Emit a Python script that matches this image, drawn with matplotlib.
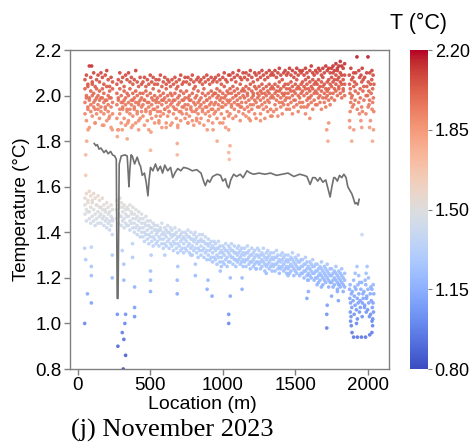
import numpy as np
import matplotlib
matplotlib.use('Agg')
import matplotlib.pyplot as plt
from matplotlib import cm, colors

plt.rcParams['font.family'] = ['Liberation Sans', 'DejaVu Sans']

# fibre locations (m), one reading every 10 m
location = np.arange(50, 1850, 10)

# temperature profiles, in 1/100 °C ('--' = no reading)
upper_1 = """
207 209 205 213 208 206 210 204 207 209
206 210 208 205 209 211 207 204 208 206
 -- --  205 207 210 206 208 204 209 207
210 206 208 205 207 211 206 204 208 205
206 208 204 207 205 209 206 208 205 207
205 207 209 204 206 208 205 207 206 204
207 205 208 206 204 207 209 205 206 208
206 208 205 207 209 206 204 207 208 206
207 205 208 206 209 207 205 208 206 207
208 206 209 207 205 208 210 207 206 209
209 207 210 208 206 209 211 208 207 210
208 210 207 209 211 208 206 210 209 207
210 208 211 209 207 210 208 211 209 210
209 211 208 210 212 209 207 210 211 209
210 212 209 211 208 210 212 209 211 210
211 209 212 210 208 211 213 210 209 211
210 212 211 209 212 210 213 211 212 210
212 213 211 214 212 213 215 213 212 214
"""
upper_2 = """
203 200 204 199 202 205 201 198 203 200
202 199 203 201 198 204 200 202 199 203
 -- --  201 198 203 200 197 202 199 201
200 203 198 201 199 202 200 197 201 199
201 198 202 200 197 201 199 203 200 198
199 202 200 198 201 199 203 200 198 201
200 198 201 203 199 200 202 198 201 199
202 199 200 198 201 203 199 200 202 198
199 201 203 200 198 201 199 202 200 201
201 203 200 202 199 201 204 200 202 201
203 201 204 202 200 203 201 205 202 203
202 204 201 203 205 202 200 204 203 201
204 202 205 203 201 204 202 205 203 204
203 205 202 204 206 203 201 204 205 203
205 203 206 204 202 205 207 204 203 205
206 204 207 205 203 206 204 207 205 206
205 207 204 206 208 205 203 206 207 205
208 210 207 209 211 208 210 209 207 209
"""
upper_3 = """
197 199 195 198 196 200 197 194 199 196
198 195 199 197 194 198 196 199 195 197
 -- --  196 199 194 197 195 198 196 194
197 194 196 198 195 197 193 196 198 195
196 198 194 197 195 193 196 198 194 197
195 197 193 196 198 194 197 195 193 196
197 195 198 194 196 197 193 195 198 196
194 196 198 195 193 197 196 194 197 195
196 194 197 195 198 193 196 197 194 196
197 199 196 198 195 197 199 196 198 197
198 196 199 197 200 198 196 199 197 200
199 197 200 198 196 199 201 198 197 199
200 198 201 199 197 200 198 201 199 200
199 201 198 200 202 199 197 200 201 199
201 199 202 200 198 201 203 200 199 201
202 200 203 201 199 202 200 203 201 202
201 203 200 202 204 201 199 202 203 201
204 206 203 205 207 204 206 205 203 205
"""
upper_4 = """
192 189 194 186 193 191 195 188 192 194
190 193 187 192 195 189 193 191 186 192
 -- --  190 185 192 188 194 190 187 193
189 192 186 191 194 188 192 185 190 193
191 187 193 189 185 192 190 194 188 191
193 189 191 186 192 194 188 191 193 187
188 192 194 190 186 193 189 192 195 190
192 188 191 194 189 187 193 190 192 188
190 193 187 192 195 189 191 194 188 192
193 190 194 188 192 195 190 186 193 191
192 195 190 194 191 196 193 189 195 192
194 191 195 193 189 194 196 192 190 195
195 192 196 194 190 195 193 197 194 191
193 196 194 191 197 195 192 196 198 194
196 194 197 192 195 198 196 193 197 195
197 195 192 198 196 199 197 194 198 196
196 199 197 194 199 197 195 200 198 196
199 201 198 202 200 203 201 199 202 200
"""
lower_1 = """
155 157 154 158 156 153 157 155 152 156
154 151 155 152 150 153 151 149 152 150
 -- --  154 152 155 153 151 152 150 151
150 152 149 151 148 150 147 149 146 148
146 144 147 145 143 145 142 144 143 141
143 141 142 144 140 142 141 143 140 142
141 139 142 140 138 141 139 140 138 140
139 141 138 140 137 139 140 138 136 139
137 139 136 138 135 137 135 136 134 136
135 133 136 134 132 134 133 135 132 134
133 135 132 134 131 133 134 132 133 131
133 131 134 132 130 133 131 132 130 133
132 130 131 133 129 131 132 130 131 129
131 129 132 130 128 130 131 129 130 128
130 128 129 131 127 129 128 130 127 128
128 126 129 127 125 127 126 128 125 126
126 124 125 127 123 125 124 126 122 124
124 122 123 125 121 123 122 124 120 122
"""
lower_2 = """
152 150 153 149 151 154 150 148 152 149
151 148 150 147 149 146 148 145 147 146
 -- --  150 148 151 147 149 146 148 147
147 145 148 146 144 146 143 145 142 144
142 140 143 141 139 142 140 138 141 139
140 138 141 139 137 139 138 140 137 139
138 136 139 137 135 138 136 137 135 137
136 138 135 137 134 136 137 135 133 136
134 136 133 135 132 134 132 133 131 133
132 130 133 131 129 131 130 132 129 131
130 132 129 131 128 130 131 129 130 128
130 128 131 129 127 130 128 129 127 130
129 127 128 130 126 128 129 127 128 126
128 126 129 127 125 127 128 126 127 125
127 125 126 128 124 126 125 127 124 125
125 123 126 124 122 124 123 125 122 123
123 121 122 124 120 122 121 123 119 121
121 119 120 122 118 120 119 121 117 119
"""
lower_3 = """
148 145 149 146 144 147 145 143 146 144
147 144 146 143 145 142 144 141 143 145
 -- --  146 144 147 143 145 142 144 143
143 141 144 142 140 142 139 141 138 140
138 136 139 137 135 138 136 134 137 135
136 134 137 135 133 135 134 136 133 135
134 132 135 133 131 134 132 133 131 133
132 134 131 133 130 132 133 131 129 132
130 132 129 131 128 130 128 129 127 129
128 126 129 127 125 127 126 128 125 127
127 129 126 128 125 127 128 126 127 125
127 125 128 126 124 127 125 126 124 127
126 124 125 127 123 125 126 124 125 123
125 123 126 124 122 124 125 123 124 122
124 122 123 125 121 123 122 124 121 122
122 120 123 121 119 121 120 122 119 120
120 118 119 121 117 119 118 120 116 118
118 116 117 119 115 117 116 118 114 116
"""

# scattered low readings below each band
upper_out_x = [55, 55, 62, 71, 96, 120, 180, 215, 238, 273, 277, 307, 341, 345, 380, 420,
               502, 505, 560, 610, 686, 686, 690, 760, 820, 893, 933, 961, 1000, 1041,
               1041, 1045, 1050, 1121, 1180, 1260, 1330, 1580, 1600, 1717, 1725, 1730]
upper_out_y = [1.65, 1.74, 1.80, 1.85, 2.13, 1.88, 1.87, 1.90, 1.85, 1.82, 1.85, 1.85, 1.81, 1.88, 1.87, 1.89,
               1.76, 1.84, 1.88, 1.86, 1.74, 1.79, 1.87, 1.88, 1.89, 1.85, 1.85, 1.80, 1.88, 1.85,
               1.75, 1.72, 1.78, 1.95, 1.90, 1.89, 1.91, 1.95, 1.90, 1.85, 1.80, 1.88]
lower_out_x = [48, 55, 67, 94, 94, 94, 94, 48, 238, 238, 238, 273, 277, 307, 318, 325,
               330, 314, 330, 318, 318, 307, 392, 392, 392, 378, 378, 502, 502, 502,
               506, 600, 686, 686, 690, 780, 811, 811, 892, 926, 898, 983, 1041, 1041,
               1052, 1052, 1133, 1133, 1230, 1300, 1450, 1580, 1590, 1585, 1650, 1680,
               1717, 1717, 1720, 1750, 1797, 1790, 1800]
lower_out_y = [1.33, 1.28, 1.13, 1.335, 1.25, 1.21, 1.09, 1.00, 1.39, 1.30, 1.20, 1.04, 0.90, 0.96, 0.93, 1.00,
               0.86, 0.80, 1.04, 1.19, 1.26, 1.32, 1.07, 1.03, 1.16, 1.35, 1.29, 1.14, 1.19, 1.23,
               1.30, 1.30, 1.13, 1.19, 1.25, 1.30, 1.21, 1.26, 1.15, 1.12, 1.19, 1.23, 1.04, 1.00,
               1.12, 1.20, 1.20, 1.15, 1.24, 1.22, 1.21, 1.11, 1.14, 1.19, 1.17, 1.16,
               1.04, 0.98, 1.08, 1.12, 1.10, 1.14, 1.17]

# coil section at the far end (1870-2040 m)
coil_up_x = [1925, 2001, 1883, 1902, 1938, 1961, 1992, 2028, 1872, 1897, 1917, 1953, 1978, 2013, 2036,
             1888, 1908, 1943, 1968, 2003, 2027, 1874, 1903, 1922, 1958, 1993, 2018, 2042,
             1879, 1913, 1947, 1972, 2007, 2033, 1877, 1892, 1933, 1966, 1998, 2023,
             1887, 1912, 1948, 1988, 2012, 2038, 1882, 1902, 1937, 1973, 2008, 2033,
             1893, 1927, 1957, 2002, 2029, 1878, 1942, 1963, 1987, 2041, 1874, 1952, 2018,
             1876, 1903, 1958, 2012, 2039, 1889, 2032]
coil_up_y = [2.17, 2.17, 2.12, 2.10, 2.11, 2.12, 2.10, 2.11, 2.09, 2.08, 2.10, 2.09, 2.08, 2.10, 2.09,
             2.07, 2.06, 2.08, 2.07, 2.06, 2.07, 2.05, 2.04, 2.05, 2.06, 2.04, 2.05, 2.05,
             2.03, 2.02, 2.03, 2.04, 2.02, 2.03, 2.01, 2.00, 2.01, 2.02, 2.00, 2.01,
             1.99, 1.98, 1.99, 2.00, 1.98, 1.99, 1.97, 1.96, 1.97, 1.98, 1.96, 1.97,
             1.95, 1.94, 1.95, 1.95, 1.94, 1.93, 1.92, 1.93, 1.92, 1.93, 1.89, 1.89, 1.89,
             1.86, 1.85, 1.86, 1.86, 1.85, 1.80, 1.80]
coil_lo_x = [1960, 1925, 1995, 1913, 1937, 1988, 1902, 1943, 1982, 2004,
             1878, 1911, 1932, 1958, 1986, 2021, 2037, 1874, 1893, 1918, 1952, 1973, 2001, 2028,
             1886, 1907, 1938, 1966, 1993, 2016, 2041, 1876, 1898, 1927, 1947, 1968, 1991, 2024,
             1881, 1912, 1933, 1962, 1978, 2006, 2036, 1889, 1921, 1948, 1977, 1999, 2031,
             1879, 1906, 1942, 1989, 2019, 2039, 1884, 1928, 1961, 2011, 2034, 1881, 1922, 2029,
             1886, 2033, 1891, 2028, 1902, 1928, 1956, 1984, 2013]
coil_lo_y = [1.39, 1.25, 1.25, 1.22, 1.21, 1.22, 1.19, 1.18, 1.19, 1.20,
             1.17, 1.16, 1.17, 1.18, 1.17, 1.16, 1.17, 1.15, 1.14, 1.15, 1.15, 1.14, 1.15, 1.15,
             1.13, 1.12, 1.13, 1.13, 1.12, 1.13, 1.13, 1.11, 1.10, 1.11, 1.10, 1.11, 1.11, 1.10,
             1.09, 1.08, 1.09, 1.09, 1.08, 1.09, 1.09, 1.07, 1.06, 1.07, 1.07, 1.06, 1.07,
             1.05, 1.04, 1.05, 1.05, 1.04, 1.05, 1.03, 1.02, 1.03, 1.03, 1.02, 1.01, 1.00, 1.01,
             0.99, 0.99, 0.96, 0.96, 0.94, 0.94, 0.94, 0.94, 0.95]

# grey profile line
line_x = [114, 125, 135, 147, 160, 181, 195, 210, 227, 240, 255, 266, 272, 278, 286, 300, 325, 341,
          348, 353, 360, 368, 376, 392, 410, 425, 433, 445, 460, 472, 484, 492, 502, 518, 536, 552,
          570, 585, 600, 620, 640, 655, 674, 690, 710, 730, 760, 790, 820, 850, 870, 880, 895, 910,
          930, 961, 985, 1000, 1018, 1030, 1041, 1055, 1075, 1095, 1120, 1140, 1167, 1190, 1213,
          1250, 1290, 1330, 1370, 1410, 1450, 1490, 1530, 1560, 1580, 1602, 1620, 1637, 1655, 1670,
          1690, 1710, 1730, 1740, 1752, 1765, 1774, 1790, 1805, 1820, 1835, 1850, 1862, 1875, 1889,
          1900, 1912, 1922, 1932, 1940]
line_y = [1.79, 1.78, 1.785, 1.765, 1.77, 1.75, 1.76, 1.745, 1.755, 1.74, 1.735, 1.72, 1.11, 1.11, 1.70,
          1.735, 1.74, 1.735, 1.66, 1.60, 1.68, 1.74, 1.735, 1.70, 1.73, 1.70, 1.69, 1.65, 1.66, 1.62,
          1.56, 1.63, 1.685, 1.67, 1.70, 1.67, 1.69, 1.66, 1.695, 1.67, 1.685, 1.64, 1.665, 1.68, 1.67,
          1.685, 1.68, 1.67, 1.675, 1.66, 1.62, 1.605, 1.63, 1.62, 1.645, 1.655, 1.65, 1.625, 1.635,
          1.605, 1.595, 1.63, 1.655, 1.645, 1.655, 1.64, 1.67, 1.66, 1.655, 1.66, 1.655, 1.66, 1.65,
          1.655, 1.66, 1.645, 1.655, 1.65, 1.645, 1.61, 1.64, 1.64, 1.625, 1.64, 1.62, 1.63, 1.58,
          1.555, 1.60, 1.64, 1.64, 1.625, 1.65, 1.64, 1.655, 1.64, 1.60, 1.585, 1.57, 1.55, 1.525,
          1.53, 1.52, 1.545]


def parse(txt):
    return np.array([np.nan if v == '--' else int(v) / 100 for v in txt.split()])


profiles = [upper_1, upper_2, upper_3, upper_4, lower_1, lower_2, lower_3]
xs = [location for p in profiles] + [upper_out_x, lower_out_x, coil_up_x, coil_lo_x]
ys = [parse(p) for p in profiles] + [upper_out_y, lower_out_y, coil_up_y, coil_lo_y]
x = np.concatenate([np.asarray(a, dtype=float) for a in xs])
y = np.concatenate([np.asarray(a, dtype=float) for a in ys])
ok = ~np.isnan(y)
x, y = x[ok], y[ok]

norm = colors.Normalize(vmin=0.8, vmax=2.2)
cmap = plt.get_cmap('coolwarm')

fig = plt.figure(figsize=(4.70, 4.43), dpi=100)
ax = fig.add_axes([0.149, 0.167, 0.679, 0.720])
cax = fig.add_axes([0.872, 0.167, 0.038, 0.720])

ax.scatter(x, y, c=y, cmap=cmap, norm=norm, s=7, edgecolors='none', alpha=0.9)
ax.plot(line_x, line_y, color='#707070', lw=1.2)

ax.set_xlim(-53, 2147)
ax.set_ylim(0.8, 2.2)
ax.set_xticks([0, 500, 1000, 1500, 2000])
ax.set_yticks([0.8, 1.0, 1.2, 1.4, 1.6, 1.8, 2.0, 2.2])
ax.yaxis.set_major_formatter(matplotlib.ticker.FormatStrFormatter('%.1f'))
ax.tick_params(labelsize=13.5, color='#808080', length=4, width=1, pad=2)
for sp in ax.spines.values():
    sp.set_color('#808080')
    sp.set_linewidth(1)
ax.set_xlabel('Location (m)', fontsize=14)
ax.xaxis.set_label_coords(0.414, -0.085)
ax.set_ylabel('Temperature (°C)', fontsize=13.5, labelpad=4)

cb = fig.colorbar(cm.ScalarMappable(norm=norm, cmap=cmap), cax=cax,
                  ticks=[0.8, 1.15, 1.5, 1.85, 2.2], format='%.2f')
cb.outline.set_visible(False)
cb.ax.tick_params(labelsize=13, color='#808080', length=3, pad=2)
fig.text(419 / 470, 1 - 23 / 443, 'T (°C)', fontsize=15.5, ha='center', va='center')

fig.text(172 / 470, 1 - 430 / 443, '(j) November 2023', fontsize=19,
         family=['Liberation Serif', 'DejaVu Serif'], ha='center', va='center')

fig.savefig('out.png', dpi=100)
